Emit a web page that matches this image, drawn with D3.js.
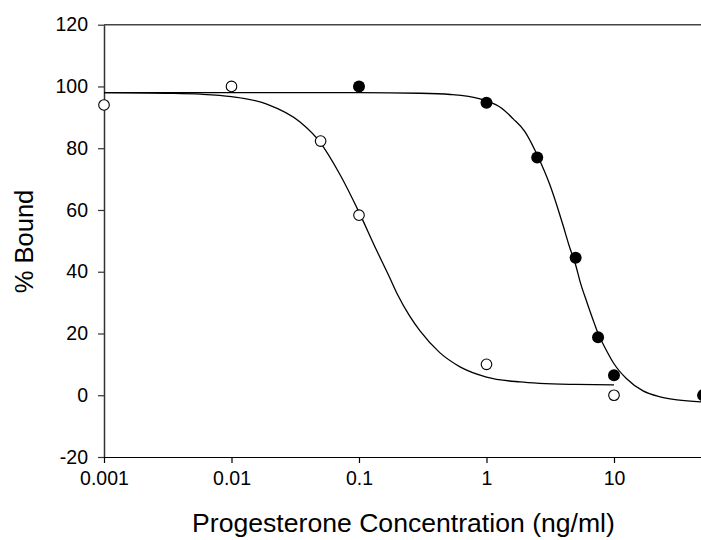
<!DOCTYPE html>
<html>
<head>
<meta charset="utf-8">
<script src="https://cdn.jsdelivr.net/npm/d3@7"></script>
<style>
  html, body { margin: 0; padding: 0; background: #fff; }
  svg { display: block; }
  text { font-family: Arial, "Liberation Sans", sans-serif; fill: #000; }
</style>
</head>
<body>
<svg id="chart" width="701" height="540"></svg>
<script>
// ---- data ----
const openConc   = [0.001, 0.01, 0.05, 0.1, 1, 10];
const openBound  = [94, 100, 82.3, 58.3, 10, 0];

const filledConc  = [0.1, 1, 2.5, 5, 7.5, 10, 50];
const filledBound = [100, 94.7, 77, 44.5, 18.8, 6.5, 0];

// fitted curves
const openCurveConc  = [0.001, 0.003, 0.0057, 0.01, 0.0189, 0.0345, 0.0494, 0.0709, 0.1, 0.135, 0.17, 0.2, 0.25, 0.3, 0.43, 0.62, 1, 1.83, 2.62, 5, 10];
const openCurveBound = [98, 97.8, 97.5, 96.7, 94.3, 88.5, 82.0, 71.5, 59.3, 47.6, 39.0, 32.7, 25.6, 20.9, 13.8, 9.2, 5.9, 4.3, 3.85, 3.5, 3.35];

const filledCurveConc  = [0.001, 0.1, 0.3, 0.52, 0.89, 1, 1.3, 1.62, 2, 2.52, 3.15, 3.6, 4, 4.5, 4.94, 5.5, 6.11, 7, 7.53, 8.5, 10, 12.5, 16.9, 23, 31.3, 48, 60];
const filledCurveBound = [98, 98, 97.8, 97.4, 96.0, 95.3, 93.1, 89.5, 85.4, 77.5, 68.0, 60.9, 54.8, 47.75, 43.0, 35.9, 30.3, 23.35, 19.8, 15.4, 10.2, 5.4, 1.4, -0.5, -1.5, -2.15, -2.3];

const xTicks = [0.001, 0.01, 0.1, 1, 10];
const xTickLabels = ["0.001", "0.01", "0.1", "1", "10"];
const yTicks = [-20, 0, 20, 40, 60, 80, 100, 120];
const yTickLabels = ["-20", "0", "20", "40", "60", "80", "100", "120"];

const xTitle = "Progesterone Concentration (ng/ml)";
const yTitle = "% Bound";

// ---- layout ----
const svg = d3.select("#chart");
const plotLeft = 104, plotTop = 24.7, plotBottom = 457.0, decade = 127.5;

const x = d3.scaleLog().domain([0.001, 100]).range([plotLeft, plotLeft + decade * 5]);
const y = d3.scaleLinear().domain([-20, 120]).range([plotBottom, plotTop]);

// frame: top line and left/bottom axes
svg.append("line")
  .attr("x1", plotLeft).attr("x2", 760)
  .attr("y1", y(120)).attr("y2", y(120))
  .attr("stroke", "#444").attr("stroke-width", 1.4);

const yAxis = svg.append("g")
  .attr("transform", `translate(${plotLeft},0)`)
  .call(d3.axisLeft(y).tickValues(yTicks).tickFormat((d, i) => yTickLabels[i]).tickSize(6).tickSizeOuter(0).tickPadding(10));
yAxis.select(".domain").attr("stroke", "#333").attr("stroke-width", 1.5);
yAxis.selectAll(".tick line").attr("stroke", "#333").attr("stroke-width", 1.2);
yAxis.selectAll(".tick text").style("font-size", "19.5px").style("font-family", "Arial, 'Liberation Sans', sans-serif").attr("fill", "#000");

const xAxis = svg.append("g")
  .attr("transform", `translate(0,${plotBottom})`)
  .call(d3.axisBottom(x).tickValues(xTicks).tickFormat((d, i) => xTickLabels[i]).tickSize(6).tickSizeOuter(0).tickPadding(8));
xAxis.select(".domain").attr("stroke", "#000").attr("stroke-width", 1.2).attr("d", `M${plotLeft},0.5H760`);
xAxis.selectAll(".tick line").attr("stroke", "#000").attr("stroke-width", 1.2);
xAxis.selectAll(".tick text").style("font-size", "19.5px").style("font-family", "Arial, 'Liberation Sans', sans-serif").attr("fill", "#000");

// axis titles
svg.append("text")
  .attr("x", 403.5).attr("y", 532)
  .attr("text-anchor", "middle")
  .style("font-size", "26.6px")
  .text(xTitle);

svg.append("text")
  .attr("transform", "translate(33,241.5) rotate(-90)")
  .attr("text-anchor", "middle")
  .style("font-size", "25.5px")
  .text(yTitle);

// curves
const line = d3.line()
  .x(d => x(d[0]))
  .y(d => y(d[1]))
  .curve(d3.curveMonotoneX);

svg.append("path")
  .datum(openCurveConc.map((c, i) => [c, openCurveBound[i]]))
  .attr("d", line)
  .attr("fill", "none").attr("stroke", "#000").attr("stroke-width", 1.3);

svg.append("path")
  .datum(filledCurveConc.map((c, i) => [c, filledCurveBound[i]]))
  .attr("d", line)
  .attr("fill", "none").attr("stroke", "#000").attr("stroke-width", 1.3);

// points
svg.append("g").selectAll("circle")
  .data(openConc.map((c, i) => [c, openBound[i]]))
  .join("circle")
  .attr("cx", d => x(d[0])).attr("cy", d => y(d[1]))
  .attr("r", 5.3)
  .attr("fill", "#fff").attr("stroke", "#000").attr("stroke-width", 1.1);

svg.append("g").selectAll("circle")
  .data(filledConc.map((c, i) => [c, filledBound[i]]))
  .join("circle")
  .attr("cx", d => x(d[0])).attr("cy", d => y(d[1]))
  .attr("r", 6)
  .attr("fill", "#000");
</script>
</body>
</html>
